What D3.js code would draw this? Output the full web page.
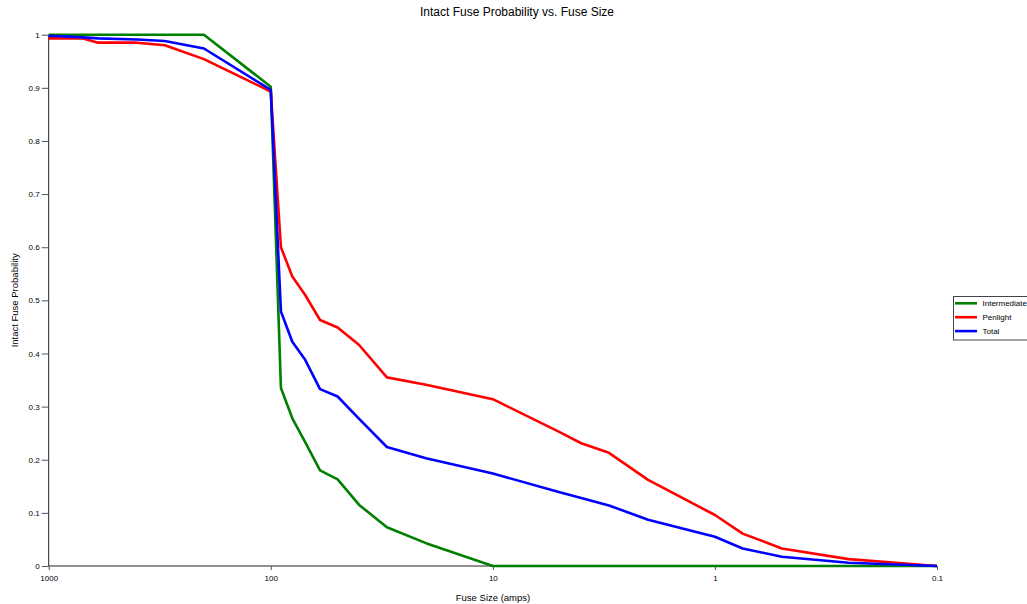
<!DOCTYPE html>
<html>
<head>
<meta charset="utf-8">
<script src="https://cdn.jsdelivr.net/npm/d3@7"></script>
<style>
  body { margin: 0; background: #fff; }
  svg { display: block; font-family: "Liberation Sans", Arial, sans-serif; }
</style>
</head>
<body>
<svg id="chart" width="1027" height="604"></svg>
<script>
const fuseSizes = [1000, 700, 600, 400, 300, 200, 100, 90, 80, 70, 60, 50, 40, 30, 20, 10, 5, 4, 3, 2, 1, 0.75, 0.5, 0.25, 0.1];
const intermediate = [1, 1, 1, 1, 1, 1, 0.902, 0.335, 0.278, 0.233, 0.18, 0.163, 0.115, 0.073, 0.043, 0, 0, 0, 0, 0, 0, 0, 0, 0, 0];
const penlight = [0.993, 0.993, 0.985, 0.985, 0.98, 0.954, 0.893, 0.60, 0.545, 0.51, 0.463, 0.449, 0.416, 0.355, 0.341, 0.314, 0.252, 0.231, 0.213, 0.162, 0.096, 0.061, 0.033, 0.013, 0];
const total = [0.998, 0.995, 0.993, 0.991, 0.988, 0.974, 0.896, 0.479, 0.422, 0.388, 0.333, 0.319, 0.277, 0.224, 0.203, 0.174, 0.139, 0.128, 0.114, 0.087, 0.055, 0.033, 0.0175, 0.006, 0];
const seriesNames = ["Intermediate", "Penlight", "Total"];
const seriesColors = ["#008000", "#ff0000", "#0000ff"];
const xTicks = [1000, 100, 10, 1, 0.1];
const yTicks = [0, 0.1, 0.2, 0.3, 0.4, 0.5, 0.6, 0.7, 0.8, 0.9, 1];

(function () {
const svg = d3.select("#chart");
const pLeft = 48.7, pRight = 937, pTop = 34.7, pBottom = 566;

const x = d3.scaleLog().domain([1000, 0.1]).range([pLeft, pRight]);
const y = d3.scaleLinear().domain([0, 1]).range([pBottom, pTop]);

// Title
svg.append("text").attr("x", 517).attr("y", 16).attr("text-anchor", "middle")
  .attr("font-size", 12).attr("fill", "#000").text("Intact Fuse Probability vs. Fuse Size");

// Axes
const xAxis = d3.axisBottom(x).tickValues(xTicks).tickSize(4).tickFormat(d => String(d));
const gx = svg.append("g").attr("transform", `translate(0,${pBottom})`).call(xAxis);
gx.selectAll("text").attr("font-size", 8).attr("fill", "#000").attr("dy", "0.95em").attr("font-family", "Liberation Sans, Arial, sans-serif");
gx.selectAll("line").attr("stroke", "#555");
gx.select(".domain").attr("stroke", "#222").attr("d", `M${pLeft},0H${pRight}`);

const yAxis = d3.axisLeft(y).tickValues(yTicks).tickSize(7).tickPadding(2).tickFormat(d => String(d));
const gy = svg.append("g").attr("transform", `translate(${pLeft},0)`).call(yAxis);
gy.selectAll("text").attr("font-size", 8).attr("fill", "#000").attr("font-family", "Liberation Sans, Arial, sans-serif");
gy.selectAll("line").attr("stroke", "#555");
gy.select(".domain").attr("stroke", "#222").attr("d", `M0,${pBottom}V${pTop}`);

// Axis labels
svg.append("text").attr("x", 493).attr("y", 601).attr("text-anchor", "middle")
  .attr("font-size", 9.5).attr("fill", "#000").text("Fuse Size (amps)");
svg.append("text").attr("transform", `translate(18,${(pTop + pBottom) / 2}) rotate(-90)`)
  .attr("text-anchor", "middle").attr("font-size", 9.5).attr("fill", "#000").text("Intact Fuse Probability");

// Lines
const allSeries = [intermediate, penlight, total];
const line = d3.line().x(d => x(d[0])).y(d => y(d[1]));
allSeries.forEach((vals, i) => {
  const pts = fuseSizes.map((s, j) => [s, vals[j]]);
  svg.append("path").attr("d", line(pts)).attr("fill", "none")
    .attr("stroke", seriesColors[i]).attr("stroke-width", 2.6).attr("stroke-linejoin", "round");
});

// Legend
const lg = svg.append("g");
lg.append("rect").attr("x", 953.5).attr("y", 296.5).attr("width", 80).attr("height", 43.5)
  .attr("fill", "#fff").attr("stroke", "#444").attr("stroke-width", 1);
seriesNames.forEach((n, i) => {
  const yy = 303.3 + i * 13.9;
  lg.append("line").attr("x1", 955).attr("x2", 977).attr("y1", yy).attr("y2", yy)
    .attr("stroke", seriesColors[i]).attr("stroke-width", 2.6);
  lg.append("text").attr("x", 982.5).attr("y", yy + 3).attr("font-size", 8).attr("fill", "#000").text(n);
});
})();
</script>
</body>
</html>
